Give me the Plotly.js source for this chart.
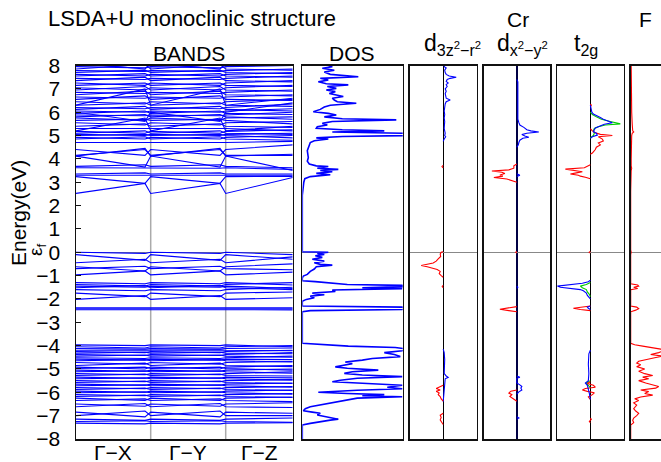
<!DOCTYPE html>
<html><head><meta charset="utf-8">
<script src="https://cdn.plot.ly/plotly-3.0.1.min.js"></script>
<style>html,body{margin:0;padding:0;background:#fff}#chart{width:661px;height:462px}</style>
</head><body><div id="chart"></div>
<script>
// ---------------- DATA ----------------
const kLabels = ["Γ−X", "Γ−Y", "Γ−Z"];
// k-path distances: Γ, X, Γ, Y, Γ, Z
const kPath = [0, 69, 74.7, 144, 149.7, 216.7];

// band energies (eV) at [Γ, X, Y, Z]
const bandsConduction = [
 [2.52,2.95,2.95,3.20],[3.24,2.95,2.95,3.25],[3.30,3.30,3.30,3.30],[3.35,3.40,3.40,3.35],
 [3.62,3.60,3.60,3.55],[3.68,3.75,3.75,3.62],[4.12,3.65,3.65,3.50],[4.12,4.45,4.45,4.20],
 [4.15,4.40,4.40,4.15],[4.40,4.15,4.15,4.60],[4.70,4.70,4.70,4.75],
 [4.85,4.95,4.95,4.80],[4.92,4.85,4.85,5.00],[5.00,5.05,5.05,4.90],[5.05,5.00,5.00,5.10],
 [5.10,5.20,5.20,5.05],[5.18,5.10,5.10,5.25],[5.30,5.30,5.30,5.20],[5.40,5.50,5.50,5.35],
 [5.55,5.45,5.45,5.60],[5.65,5.70,5.70,5.50],[5.75,5.65,5.65,5.80],[5.80,5.90,5.90,5.70],
 [5.88,5.85,5.85,6.00],[5.95,6.05,6.05,5.90],[6.05,6.00,6.00,6.15],[6.12,6.25,6.25,6.05],
 [6.20,6.15,6.15,6.35],[6.30,6.40,6.40,6.25],[6.45,6.35,6.35,6.55],[6.55,6.70,6.70,6.50],
 [6.65,6.60,6.60,6.75],[6.75,6.90,6.90,6.70],[6.85,6.80,6.80,6.95],[6.95,7.10,7.10,6.90],
 [7.05,6.95,6.95,7.15],[7.15,7.25,7.25,7.10],[7.25,7.15,7.15,7.35],[7.35,7.50,7.50,7.30],
 [7.45,7.40,7.40,7.55],[7.55,7.65,7.65,7.50],[7.62,7.55,7.55,7.70],[7.70,7.80,7.80,7.65],
 [7.78,7.75,7.75,7.85],[7.85,8.05,8.05,7.80],[7.95,7.90,7.90,8.00],[8.10,7.85,7.85,8.10],
 [6.30,7.00,7.00,6.60],[5.20,5.75,5.75,5.40],[6.00,5.60,5.60,6.40]
];
const bandsValenceTop = [
 [0.00,-0.05,-0.05,-0.10],[-0.10,-0.35,-0.35,-0.30],[-0.45,-0.30,-0.30,-0.20],
 [-0.62,-0.80,-0.80,-0.50],[-0.70,-0.60,-0.60,-0.75],[-0.97,-0.80,-0.80,-0.85],
 [-1.30,-1.35,-1.35,-1.40],[-1.38,-1.45,-1.45,-1.30],[-1.45,-1.50,-1.50,-1.55],
 [-1.52,-1.42,-1.42,-1.60],[-1.60,-1.65,-1.65,-1.50],[-1.75,-1.90,-1.90,-1.70],
 [-2.02,-1.85,-1.85,-1.95],[-2.38,-2.38,-2.38,-2.38],[-2.42,-2.42,-2.42,-2.42],
 [-2.46,-2.45,-2.45,-2.47]
];
const bandsValenceLow = [
 [-3.97,-4.00,-4.00,-4.05],[-4.05,-4.10,-4.10,-4.00],[-4.12,-4.15,-4.15,-4.10],
 [-4.20,-4.18,-4.18,-4.22],[-4.25,-4.30,-4.30,-4.20],[-4.32,-4.28,-4.28,-4.35],
 [-4.38,-4.42,-4.42,-4.30],[-4.45,-4.40,-4.40,-4.50],[-4.52,-4.55,-4.55,-4.45],
 [-4.58,-4.62,-4.62,-4.60],[-4.65,-4.60,-4.60,-4.70],[-4.72,-4.80,-4.80,-4.68],
 [-4.85,-4.75,-4.75,-4.90],[-4.92,-5.00,-5.00,-4.85],[-4.98,-4.92,-4.92,-5.05],
 [-5.05,-5.10,-5.10,-5.00],[-5.12,-5.08,-5.08,-5.18],[-5.20,-5.25,-5.25,-5.12],
 [-5.28,-5.22,-5.22,-5.30],[-5.35,-5.40,-5.40,-5.38],[-5.42,-5.38,-5.38,-5.48],
 [-5.50,-5.55,-5.55,-5.45],[-5.58,-5.52,-5.52,-5.62],[-5.65,-5.70,-5.70,-5.60],
 [-5.72,-5.68,-5.68,-5.78],[-5.80,-5.85,-5.85,-5.75],[-5.88,-5.82,-5.82,-5.92],
 [-5.95,-6.00,-6.00,-5.90],[-6.02,-5.98,-5.98,-6.08],[-6.10,-6.15,-6.15,-6.05],
 [-6.18,-6.12,-6.12,-6.22],[-6.25,-6.35,-6.35,-6.20],[-6.35,-6.28,-6.28,-6.40],
 [-6.50,-6.60,-6.60,-6.45],[-6.62,-6.48,-6.48,-6.65],[-6.85,-7.05,-7.05,-6.90],
 [-7.00,-6.80,-6.80,-7.00],[-7.15,-7.20,-7.20,-7.10],[-7.25,-7.22,-7.22,-7.28],
 [-7.32,-7.35,-7.35,-7.30]
];

// total DOS: [energy, DOS]
const dosTotal = [
 [8.05,22],[7.95,30],[7.88,20],[7.80,32],[7.72,22],[7.62,28],[7.52,56],[7.45,18],[7.38,26],[7.30,16],
 [7.22,24],[7.17,46],[7.10,25],[7.02,34],[6.95,24],[6.88,33],[6.80,27],[6.72,36],[6.67,41],[6.60,30],
 [6.52,32],[6.45,35],[6.38,54],[6.30,28],[6.22,22],[6.12,18],[6.02,11],[5.95,26],[5.88,34],[5.80,22],
 [5.72,40],[5.67,94],[5.60,30],[5.52,20],[5.45,25],[5.38,15],[5.31,14],[5.25,40],[5.20,82],[5.15,30],
 [5.10,100],[5.05,110],[5.00,105],[4.96,40],[4.90,14],[4.85,26],[4.78,12],[4.70,8],[4.60,7],[4.50,6],
 [4.35,5],[4.20,5.5],[4.05,6],[3.90,5],[3.78,7],[3.70,14],[3.67,26],[3.60,15],[3.55,36],[3.50,18],
 [3.45,30],[3.38,14],[3.32,28],[3.24,8],[3.15,2.5],[3.00,1.5],[2.70,0.8],[2.52,0.5],[2.45,0],[0.02,0],
 [0.00,26],[-0.05,15],[-0.10,22],[-0.15,13],[-0.22,20],[-0.30,10],[-0.38,22],[-0.45,12],[-0.52,18],[-0.55,30],
 [-0.62,14],[-0.72,12],[-0.82,8],[-0.95,5],[-1.02,1],[-1.10,0],[-1.22,0],[-1.26,13],[-1.30,25],[-1.33,30],
 [-1.38,45],[-1.42,100],[-1.47,102],[-1.52,60],[-1.56,100],[-1.62,30],[-1.68,33],[-1.75,10],[-1.82,22],[-1.88,8],
 [-1.95,12],[-2.02,4],[-2.10,0],[-2.30,0],[-2.35,100],[-2.40,105],[-2.45,100],[-2.50,8],[-2.55,0],[-3.90,0],
 [-3.95,16],[-4.02,46],[-4.08,93],[-4.15,105],[-4.22,100],[-4.30,82],[-4.38,92],[-4.47,98],[-4.55,70],[-4.62,60],
 [-4.70,43],[-4.77,50],[-4.85,40],[-4.91,33],[-4.97,45],[-5.05,76],[-5.12,50],[-5.19,42],[-5.26,60],[-5.33,100],
 [-5.40,55],[-5.48,38],[-5.55,30],[-5.62,70],[-5.70,100],[-5.78,85],[-5.85,100],[-5.91,55],[-6.00,16],[-6.05,45],
 [-6.10,82],[-6.15,60],[-6.19,100],[-6.25,55],[-6.33,45],[-6.40,35],[-6.47,25],[-6.55,15],[-6.62,8],[-6.70,3],
 [-6.79,1],[-6.85,10],[-6.90,18],[-6.97,15],[-7.04,22],[-7.10,30],[-7.15,36],[-7.19,28],[-7.25,18],[-7.33,8],
 [-7.40,0],[-8.00,0]
];

// Cr d(3z2-r2) partial DOS: [energy, value]; null = gap
const crDz2Up = [
 [8.05,2],[7.95,1],[7.9,3],[7.8,1.5],[7.7,2],[7.62,3],[7.55,6],[7.5,13],[7.45,7],[7.4,4],[7.32,3],[7.25,5],
 [7.18,3],[7.1,4],[7.0,2],[6.9,3],[6.8,2],[6.7,2.5],[6.6,3],[6.52,7],[6.45,3],[6.35,2],[6.2,1.5],[6.05,1],
 [5.9,1.5],[5.75,1],[5.6,1.5],[5.45,1],[5.3,1],[5.2,1.5],[5.1,2],[5.0,1.5],[4.95,2.5],[4.85,1],[4.75,0],
 null,
 [-4.15,0],[-4.3,1],[-4.6,1.5],[-4.9,1],[-5.2,1],[-5.3,3],[-5.36,5],[-5.42,2],[-5.6,1.5],[-5.9,1],[-6.2,0.5],[-6.4,0]
];
const crDz2Dn = [
 [3.72,0],[3.67,-1.2],[3.62,0],
 null,
 [0.02,0],[0,-2],[-0.08,-3],[-0.18,-2.5],[-0.28,-5],[-0.38,-7],[-0.46,-10],[-0.52,-18],[-0.57,-22],[-0.62,-16],
 [-0.67,-12],[-0.74,-6],[-0.82,-3],[-0.92,-4],[-1.0,-2],[-1.07,0],
 null,
 [-1.42,0],[-1.47,-1],[-1.52,0],
 null,
 [-5.7,0],[-5.78,-5],[-5.84,-7],[-5.9,-3],[-5.96,-7],[-6.03,-4],[-6.1,-5],[-6.18,-3],[-6.28,-2],[-6.38,0],
 null,
 [-6.9,0],[-6.98,-3],[-7.08,-2],[-7.18,-3],[-7.28,-1.5],[-7.38,0]
];
// Cr d(x2-y2)
const crDx2Up = [
 [7.4,0],[7.3,1],[6.9,1],[6.5,1.2],[6.1,1],[5.7,1],[5.55,2],[5.45,3],[5.35,7],[5.25,10],[5.2,14],[5.15,22],
 [5.1,10],[5.04,5],[4.98,8],[4.93,12],[4.88,6],[4.8,3],[4.7,2],[4.6,1.5],[4.5,0],
 null,
 [3.36,0],[3.3,3],[3.24,0],
 null,
 [-1.45,0],[-1.5,1],[-1.55,0],
 null,
 [-5.3,0],[-5.35,3],[-5.4,0],[-5.6,0],[-5.68,3],[-5.75,5],[-5.82,4],[-5.9,5],[-5.98,2],[-6.08,0],
 null,
 [-7.05,0],[-7.1,2],[-7.15,0]
];
const crDx2Dn = [
 [3.78,0],[3.7,-3],[3.6,-3],[3.53,-8],[3.48,-25],[3.43,-15],[3.37,-12],[3.31,-17],[3.26,-14],[3.2,-23],
 [3.14,-10],[3.08,-5],[3.0,0],
 null,
 [0.04,0],[0,-1.2],[-0.04,0],
 null,
 [-2.33,0],[-2.38,-10],[-2.44,-17],[-2.5,-8],[-2.55,0],
 null,
 [-5.9,0],[-5.95,-6],[-6.03,-8],[-6.1,-5],[-6.18,-7],[-6.28,-3],[-6.38,0]
];
// Cr t2g
const crT2gBlue = [
 [6.3,0],[6.0,1.5],[5.92,3],[5.85,7],[5.77,10],[5.7,13],[5.62,18],[5.55,22],[5.48,14],[5.4,10],[5.32,5],
 [5.25,4],[5.16,3],[5.1,6],[5.02,7],[4.95,2],[4.88,0],
 null,
 [-1.2,0],[-1.26,-2],[-1.33,-8],[-1.4,-25],[-1.45,-33],[-1.5,-30],[-1.55,-20],[-1.6,-10],[-1.65,-7],
 [-1.75,-4],[-1.85,-3],[-1.95,-1],[-2.0,0],
 null,
 [-2.3,0],[-2.35,-3],[-2.4,-2],[-2.45,0],
 null,
 [-4.2,0],[-4.35,-1.5],[-4.8,-2],[-5.2,-1.5],[-5.5,-2],[-5.6,-5],[-5.7,-3],[-5.85,-2],[-6.05,-1],[-6.3,0]
];
const crT2gGreen = [
 [6.0,0],[5.9,2],[5.8,6],[5.7,11],[5.6,20],[5.5,30],[5.45,15],[5.38,8],[5.3,4],[5.2,3],[5.1,4],[5.0,3],[4.9,0],
 null,
 [-1.3,0],[-1.38,-4],[-1.45,-10],[-1.52,-8],[-1.6,-4],[-1.7,-3],[-1.8,-1],[-1.9,0],
 null,
 [-5.5,0],[-5.6,-4],[-5.7,-2],[-5.8,0]
];
const crT2gRed = [
 [6.35,0],[6.3,1],[6.22,0],
 null,
 [5.3,0],[5.2,2],[5.12,5],[5.05,10],[5.0,22],[4.95,8],[4.85,12],[4.77,13],[4.68,8],[4.6,10],[4.5,6],
 [4.4,5],[4.3,3],[4.25,2],[4.2,0],
 null,
 [3.75,0],[3.7,-3],[3.62,-6],[3.56,-25],[3.5,-15],[3.45,-8],[3.4,-14],[3.35,-20],[3.3,-12],[3.26,-10],
 [3.21,-5],[3.15,0],
 null,
 [0.04,0],[0,-1.2],[-0.04,0],
 null,
 [-2.3,0],[-2.35,-8],[-2.4,-17],[-2.45,-10],[-2.5,0],
 null,
 [-5.55,0],[-5.62,-3],[-5.7,3],[-5.78,5],[-5.84,-5],[-5.9,-8],[-5.96,-3],[-6.02,4],[-6.1,2],[-6.2,-2],[-6.3,0],
 null,
 [-7.1,0],[-7.15,1],[-7.25,-1],[-7.3,0]
];
// F partial DOS
const fPdos = [
 [8.0,0.5],[6.8,0.5],[6.5,1],[6.0,1],[5.5,1.5],[5.2,2],[5.15,3],[5.1,1.5],[5.0,1],[4.5,0.5],[4.0,0.5],
 [3.7,0.5],[3.6,1],[3.5,0.5],[2.6,0],[0.1,0],[0,0.5],[-0.1,0],[-1.35,0],[-1.4,7],[-1.45,8],[-1.5,3],
 [-1.55,7],[-1.6,0],[-2.3,0],[-2.35,6],[-2.42,8],[-2.48,5],[-2.55,0],[-3.9,0],[-3.96,4],[-4.02,12],
 [-4.08,22],[-4.15,30],[-4.22,33],[-4.3,28],[-4.38,20],[-4.45,32],[-4.52,24],[-4.6,15],[-4.67,8],
 [-4.75,6],[-4.82,10],[-4.9,6],[-5.0,14],[-5.1,8],[-5.2,14],[-5.28,22],[-5.35,12],[-5.42,18],[-5.5,8],
 [-5.6,15],[-5.68,22],[-5.75,28],[-5.82,25],[-5.9,10],[-5.97,18],[-6.05,14],[-6.12,22],[-6.2,10],
 [-6.28,4],[-6.35,8],[-6.45,3],[-6.55,6],[-6.7,3],[-6.8,5],[-6.9,8],[-7.0,6],[-7.1,3],[-7.2,2],
 [-7.3,3],[-7.4,0],[-8,0]
];

// ---------------- BUILD ----------------
const W = 661, H = 462;
const px = v => v / W, py = v => 1 - v / H;
const FONT = "Liberation Sans, Arial, sans-serif";
const BLUE = "#0000ff", RED = "#ff0000", GREEN = "#00cc00";

function bandXY(groups) {
  const x = [], y = [];
  groups.forEach(g => g.forEach(b => {
    const e = [b[0], b[1], b[0], b[2], b[0], b[3]];
    kPath.forEach((k, i) => { x.push(k); y.push(e[i]); });
    x.push(null); y.push(null);
  }));
  return { x, y };
}
function pdosXY(pairs) {
  const x = [], y = [];
  pairs.forEach(p => { if (p === null) { x.push(null); y.push(null); } else { x.push(p[1]); y.push(p[0]); } });
  return { x, y };
}
const b = bandXY([bandsValenceLow, bandsValenceTop, bandsConduction]);
const traces = [
  { x: b.x, y: b.y, xaxis: 'x', yaxis: 'y', mode: 'lines', line: { color: BLUE, width: 1.1 }, connectgaps: false, hoverinfo: 'skip' }
];
function addP(pairs, ax, color, w) {
  const d = pdosXY(pairs);
  traces.push({ x: d.x, y: d.y, xaxis: 'x' + ax, yaxis: 'y' + ax, mode: 'lines', line: { color: color, width: w || 1.1 }, connectgaps: false, hoverinfo: 'skip' });
}
addP(dosTotal, 2, BLUE, 1.6);
addP(crDz2Up, 3, BLUE); addP(crDz2Dn, 3, RED);
addP(crDx2Up, 4, BLUE); addP(crDx2Dn, 4, RED);
addP(crT2gGreen, 5, GREEN); addP(crT2gRed, 5, RED); addP(crT2gBlue, 5, BLUE);
addP(fPdos, 6, RED);

const yDom = [py(439), py(65.5)];
const yBase = {
  range: [-8, 8], domain: yDom, showline: true, mirror: true, linecolor: '#111', linewidth: 1.5,
  showgrid: false, zeroline: true, zerolinecolor: '#888', zerolinewidth: 1.2,
  ticks: '', showticklabels: false, fixedrange: true
};
const xBase = {
  showline: true, mirror: true, linecolor: '#111', linewidth: 1.5, showgrid: false,
  zeroline: false, ticks: '', showticklabels: false, fixedrange: true
};
const segMid = [(kPath[0] + kPath[2]) / 2, (kPath[2] + kPath[4]) / 2, (kPath[4] + kPath[5]) / 2];

const kAnn = kLabels.map((t, i) => ({ text: t, x: segMid[i], xref: 'x', y: py(451.5), yref: 'paper',
  xanchor: 'center', yanchor: 'middle', height: 18, valign: 'middle', borderpad: 0 }));

const layout = {
  width: W, height: H, margin: { l: 0, r: 0, t: 0, b: 0 }, showlegend: false,
  paper_bgcolor: '#fff', plot_bgcolor: '#fff',
  font: { family: FONT, size: 21, color: '#000' },
  xaxis: Object.assign({}, xBase, { domain: [px(76), px(292.7)], range: [kPath[0], kPath[5]], anchor: 'y' }),
  yaxis: Object.assign({}, yBase, { anchor: 'x', showticklabels: true, ticks: 'inside', ticklen: 5, tickcolor: '#111',
    tick0: 0, dtick: 1, tickfont: { size: 21 }, ticklabelstandoff: 10 }),
  xaxis2: Object.assign({}, xBase, { domain: [px(302.3), px(402.7)], range: [0, 100.4], anchor: 'y2' }),
  yaxis2: Object.assign({}, yBase, { anchor: 'x2' }),
  xaxis3: Object.assign({}, xBase, { domain: [px(409.7), px(476.7)], range: [-33.5, 33.5], anchor: 'y3', zeroline: true, zerolinecolor: '#000', zerolinewidth: 1.3 }),
  yaxis3: Object.assign({}, yBase, { anchor: 'x3' }),
  xaxis4: Object.assign({}, xBase, { domain: [px(483.7), px(550)], range: [-33.2, 33.2], anchor: 'y4', zeroline: true, zerolinecolor: '#000044', zerolinewidth: 2.2 }),
  yaxis4: Object.assign({}, yBase, { anchor: 'x4' }),
  xaxis5: Object.assign({}, xBase, { domain: [px(557), px(623.7)], range: [-33.4, 33.4], anchor: 'y5', zeroline: true, zerolinecolor: '#000', zerolinewidth: 1.3 }),
  yaxis5: Object.assign({}, yBase, { anchor: 'x5' }),
  xaxis6: Object.assign({}, xBase, { domain: [px(630.7), 1], range: [0, 30.3], anchor: 'y6' }),
  yaxis6: Object.assign({}, yBase, { anchor: 'x6', mirror: false }),
  shapes: [kPath[2], kPath[4]].map(k => ({
    type: 'line', xref: 'x', yref: 'paper', x0: k, x1: k, y0: yDom[0], y1: yDom[1],
    line: { color: '#aaaaaa', width: 1.5 }, layer: 'below'
  })),
  annotations: [
    { text: 'LSDA+U monoclinic structure', x: px(46), y: py(18), xanchor: 'left', yanchor: 'middle', font: { size: 22 } },
    { text: 'BANDS', x: px(189), y: py(53), xanchor: 'center', yanchor: 'middle' },
    { text: 'DOS', x: px(352), y: py(53), xanchor: 'center', yanchor: 'middle' },
    { text: 'Cr', x: px(517.5), y: py(20), xanchor: 'center', yanchor: 'middle' },
    { text: 'F', x: px(645), y: py(20), xanchor: 'center', yanchor: 'middle' },
    { text: 'd<sub>3z<sup>2</sup>−r<sup>2</sup></sub>', x: px(422), y: py(44), xanchor: 'left', yanchor: 'middle', font: { size: 23 } },
    { text: 'd<sub>x<sup>2</sup>−y<sup>2</sup></sub>', x: px(495), y: py(44), xanchor: 'left', yanchor: 'middle', font: { size: 23 } },
    { text: 't<sub>2g</sub>', x: px(572), y: py(44), xanchor: 'left', yanchor: 'middle', font: { size: 23 } },
    { text: 'Energy(eV)', x: px(18), y: py(213), xanchor: 'center', yanchor: 'middle', textangle: -90 },
    { text: 'ε<sub>f</sub>', x: px(37), y: py(250), xanchor: 'center', yanchor: 'middle', textangle: -90, font: { size: 19 } }
  ].map(a => Object.assign({ xref: 'paper', yref: 'paper', showarrow: false, font: { size: 21 } }, a)).concat(
    kAnn.map(a => Object.assign({ showarrow: false, font: { size: 21 } }, a)))
};

Plotly.newPlot('chart', traces, layout, { staticPlot: true, displayModeBar: false });
</script>
</body></html>
